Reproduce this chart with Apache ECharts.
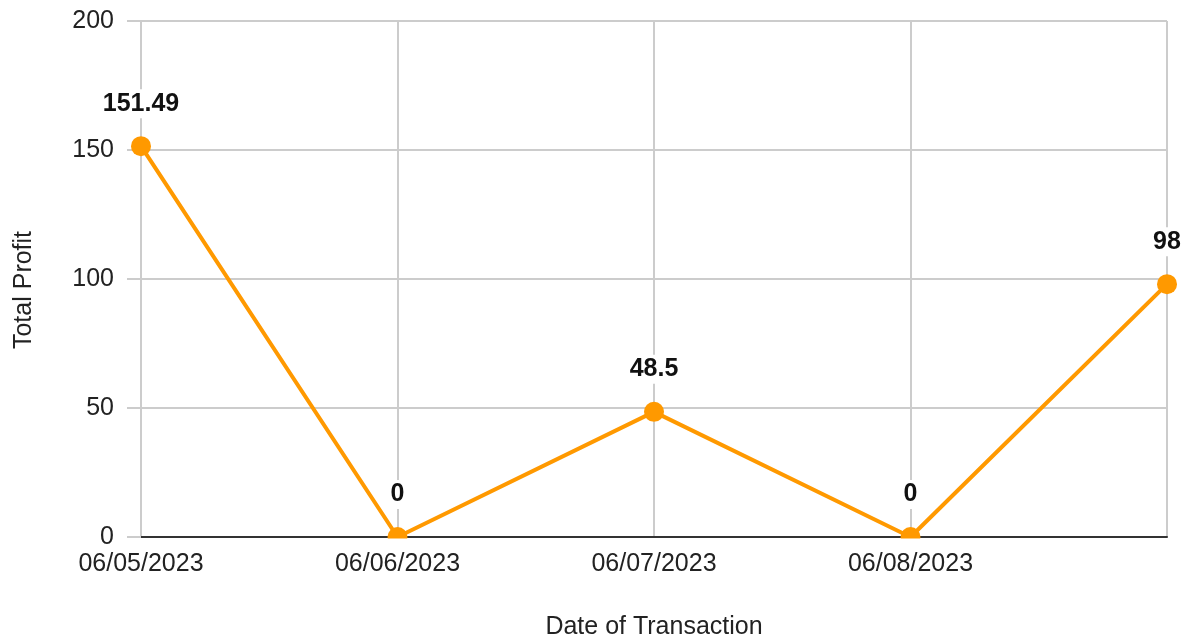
<!DOCTYPE html>
<html>
<head>
<meta charset="utf-8">
<script src="https://cdn.jsdelivr.net/npm/echarts@6/dist/echarts.min.js"></script>
<style>
  html, body { margin: 0; padding: 0; background: #ffffff; }
  #chart { width: 1186px; height: 637px; }
</style>
</head>
<body>
<div id="chart"></div>
<script>
// Daily totals of profit per transaction date
const dates = ['06/05/2023', '06/06/2023', '06/07/2023', '06/08/2023', '06/09/2023'];
const totalProfit = [151.49, 0, 48.5, 0, 98];
const yTicks = { min: 0, max: 200, interval: 50 };

const FONT = '"Liberation Sans", Arial, sans-serif';
const W = 1186, H = 637;
const GRID = { left: 141, right: 19, top: 21, bottom: 100 };

const chart = echarts.init(document.getElementById('chart'), null, { renderer: 'canvas' });

chart.setOption({
  backgroundColor: '#ffffff',
  animation: false,
  grid: Object.assign({ outerBoundsMode: 'none', containLabel: false }, GRID),
  xAxis: {
    type: 'category',
    data: dates,
    boundaryGap: false,
    name: 'Date of Transaction',
    nameLocation: 'middle',
    nameGap: 78,
    nameTextStyle: { fontFamily: FONT, fontSize: 25, color: '#222222' },
    axisLine: { show: true, lineStyle: { color: '#333333', width: 2 } },
    axisTick: { show: false },
    splitLine: { show: true, lineStyle: { color: '#cccccc', width: 2 } },
    axisLabel: {
      fontFamily: FONT, fontSize: 25, color: '#222222', margin: 15,
      formatter: (v, i) => (i === dates.length - 1 ? '' : v)
    }
  },
  yAxis: {
    type: 'value',
    min: yTicks.min,
    max: yTicks.max,
    interval: yTicks.interval,
    name: 'Total Profit',
    nameLocation: 'middle',
    nameGap: 104,
    nameTextStyle: { fontFamily: FONT, fontSize: 25, color: '#222222', padding: [0, 22, 0, 0] },
    axisLine: { show: false },
    axisTick: { show: true, length: 14, lineStyle: { color: '#cccccc', width: 2 } },
    splitLine: { show: true, lineStyle: { color: '#cccccc', width: 2 } },
    axisLabel: { fontFamily: FONT, fontSize: 25, color: '#222222', margin: 27 }
  },
  series: [{
    type: 'line',
    data: totalProfit,
    z: 5,
    clip: false,
    symbol: 'circle',
    symbolSize: 20,
    lineStyle: { color: '#ff9900', width: 4 },
    itemStyle: { color: '#ff9900' },
    label: {
      show: true,
      position: 'top',
      distance: 18,
      fontFamily: FONT,
      fontSize: 25,
      fontWeight: 'bold',
      color: '#111111',
      backgroundColor: '#ffffff',
      padding: [2, 4]
    }
  }],
  // white strip just under the x axis line (plot width only) so markers on zero are cut there
  graphic: [{
    type: 'rect',
    z: 8,
    silent: true,
    shape: { x: GRID.left - 14, y: H - GRID.bottom + 1.5, width: W - GRID.left + 14, height: 12 },
    style: { fill: '#ffffff' }
  }]
});
</script>
</body>
</html>
